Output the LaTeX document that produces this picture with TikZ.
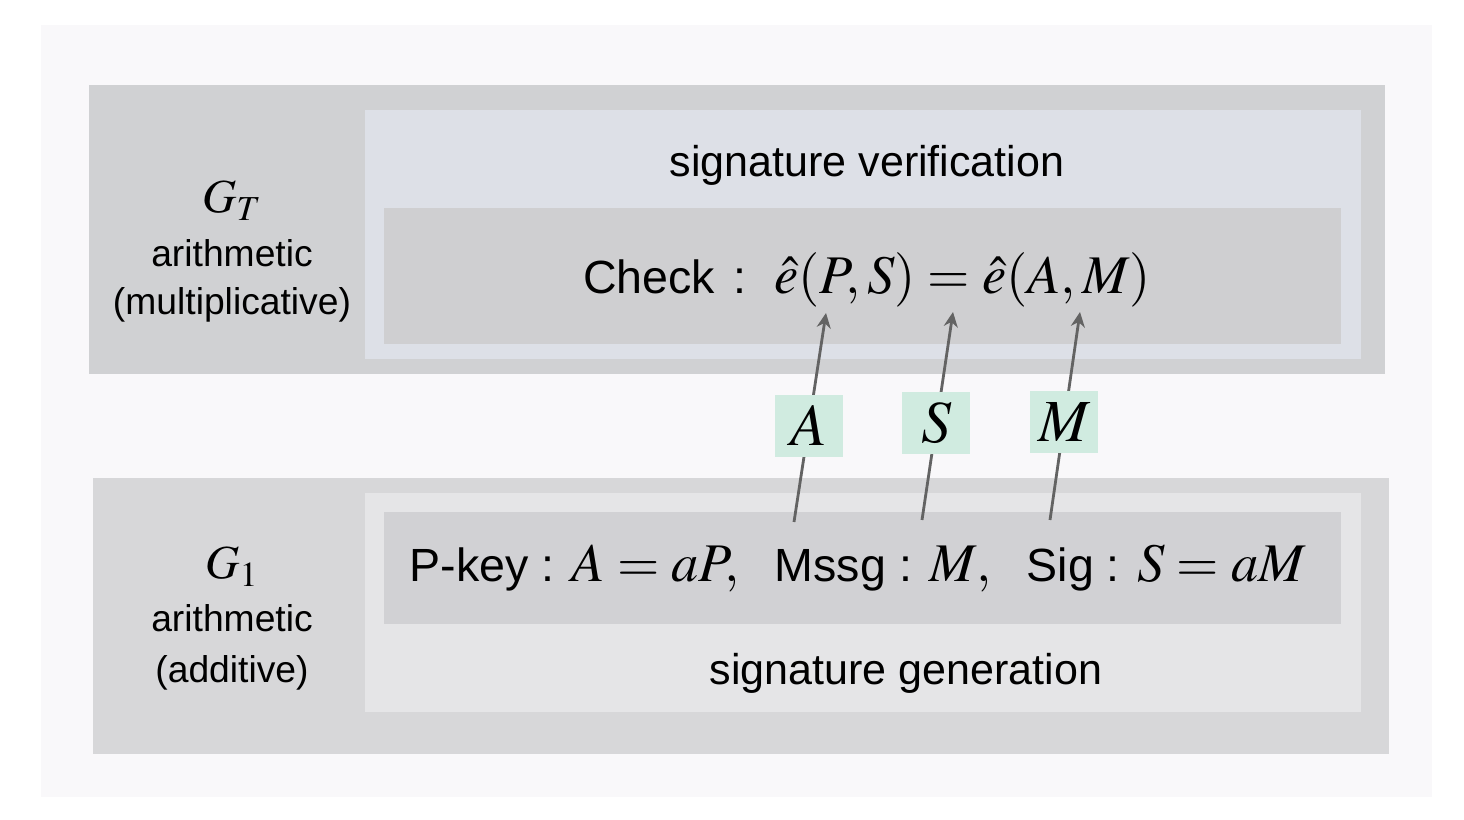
\documentclass[tikz,border=0pt]{standalone}
\usepackage{mathptmx}
\usepackage[no-math]{fontspec}
\setmainfont{Liberation Sans}
\usetikzlibrary{arrows.meta}
\definecolor{panel}{HTML}{F9F8FA}
\definecolor{topout}{HTML}{D0D1D3}
\definecolor{topin}{HTML}{DDE0E7}
\definecolor{checkbg}{HTML}{CFCFD1}
\definecolor{botout}{HTML}{D7D7D9}
\definecolor{botin}{HTML}{E5E5E7}
\definecolor{sigbg}{HTML}{D1D1D4}
\definecolor{tagbg}{HTML}{D0EBE0}
\definecolor{arrowgray}{HTML}{636363}
\newcommand{\fml}[1]{{\fontsize{31}{36}\selectfont$#1$}}
\tikzset{
  head/.style={anchor=base,inner sep=0pt,font=\fontsize{24.5}{30}\selectfont},
  side/.style={anchor=base,inner sep=0pt,font=\fontsize{21.2}{26}\selectfont},
  grp/.style={anchor=base,inner sep=0pt,font=\fontsize{27}{32}\selectfont},
  eqline/.style={anchor=base,inner sep=0pt,font=\fontsize{26.5}{32}\selectfont},
  tag/.style={fill=tagbg,minimum width=1.36cm,minimum height=1.24cm,inner sep=0pt,
    font=\fontsize{34}{40}\selectfont},
  arr/.style={->,draw=arrowgray,line width=1.6pt}
}
\begin{document}
\begin{tikzpicture}[x=0.02cm,y=-0.02cm,>={Stealth[length=8.5pt,width=8pt]}]
\fill[white] (0,0) rectangle (1464,820);
\fill[panel] (41,25) rectangle (1432,797);
% upper group: G_T
\fill[topout] (89,85) rectangle (1385,374);
\fill[topin] (365,110) rectangle (1361,359);
\fill[checkbg] (384,208) rectangle (1341,344);
% lower group: G_1
\fill[botout] (93,478) rectangle (1389,754);
\fill[botin] (365,493) rectangle (1361,712);
\fill[sigbg] (384,512) rectangle (1341,624);
\node[grp] (gt) at (232,213) {$G_T$};
\node[side] (arT) at (232,267) {arithmetic};
\node[side] (mul) at (232,315) {(multiplicative)};
\node[grp] (g1) at (232,579) {$G_1$};
\node[side] (ar1) at (232,631) {arithmetic};
\node[side] (add) at (232,682) {(additive)};
\node[head] (ver) at (867,177) {signature verification};
\node[eqline] (check) at (867,294) {Check\hspace{0.4em}:\hspace{0.6em}\fml{\hat{e}(P,S)=\hat{e}(A,M)}};
\node[eqline] (sig) at (858,582) {P-key : \fml{A=aP,}\hspace{0.75em}Mssg : \fml{M,}\hspace{0.75em}Sig : \fml{S=aM}};
\node[head] (gen) at (906,684) {signature generation};
% pairing inputs
\coordinate (a0) at (794,522);
\coordinate (a1) at (826,313);
\coordinate (s0) at (922,520);
\coordinate (s1) at (953,312);
\coordinate (m0) at (1050,520);
\coordinate (m1) at (1080,312);
\draw[arr] (a0) -- (a1) node[tag,pos=0.46] (ta) {$A$};
\draw[arr] (s0) -- (s1) node[tag,pos=0.466] (ts) {$S$};
\draw[arr] (m0) -- (m1) node[tag,pos=0.47] (tm) {$M$};
\end{tikzpicture}
\end{document}
